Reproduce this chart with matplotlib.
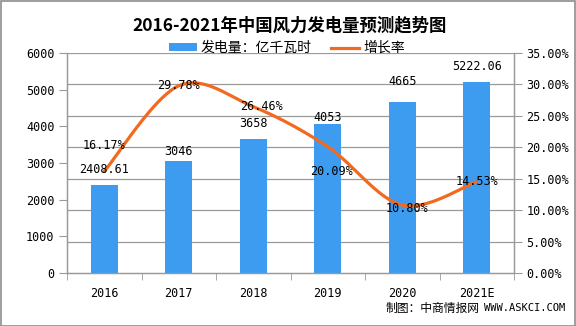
import numpy as np
import matplotlib
matplotlib.use("Agg")
import matplotlib.pyplot as plt
from matplotlib.patches import Rectangle
from matplotlib.lines import Line2D
from matplotlib.patches import Patch

plt.rcParams['font.family'] = ['Noto Sans CJK SC', 'DejaVu Sans']

# ---- data ----
years = ["2016", "2017", "2018", "2019", "2020", "2021E"]
power = [2408.61, 3046, 3658, 4053, 4665, 5222.06]
power_labels = ["2408.61", "3046", "3658", "4053", "4665", "5222.06"]
growth = [16.17, 29.78, 26.46, 20.09, 10.80, 14.53]
growth_labels = ["16.17%", "29.78%", "26.46%", "20.09%", "10.80%", "14.53%"]

# label offsets in pixels (style)
bar_label_off = [15, 10, 15, 7, 20, 15]
pct_label_off = [(0, 26), (0, 0), (8, 0), (4, -25), (5, -3), (0, 0)]

BAR = "#3D9CF0"
LINE = "#F26A1F"
GRID = "#9A9A9A"
MONO = ['DejaVu Sans Mono', 'Noto Sans CJK SC']

fig = plt.figure(figsize=(5.76, 3.26), dpi=100)
ax = fig.add_axes([67/576, 1-273/326, (514-67)/576, (273-53)/326])
ax2 = ax.twinx()

x = np.arange(len(years))
ax.bar(x, power, width=0.36, color=BAR, zorder=3)
ax.set_ylim(0, 6000)
ax.set_xlim(-0.5, len(years) - 0.5)
ax.set_yticks(np.arange(0, 6001, 1000))
ax.set_xticks(x)
ax.set_xticklabels(years, family=MONO, fontsize=8.5)
ax.tick_params(axis='x', length=0, pad=10)
ax.set_xticks(np.arange(-0.5, len(years), 1), minor=True)
ax.tick_params(axis='x', which='minor', length=5, color=GRID, direction='out')
ax.tick_params(axis='y', length=6, color=GRID, pad=3, labelsize=8.5)
for lab in ax.get_yticklabels():
    lab.set_family(MONO)

# Smoothed line (Catmull-Rom style like Excel smoothing)
g = np.array(growth)
pts = np.column_stack([x, g])
curve = []
for i in range(len(pts) - 1):
    p0 = pts[i - 1] if i > 0 else pts[i]
    p1 = pts[i]
    p2 = pts[i + 1]
    p3 = pts[i + 2] if i + 2 < len(pts) else pts[i + 1]
    c1 = p1 + (p2 - p0) / 6
    c2 = p2 - (p3 - p1) / 6
    t = np.linspace(0, 1, 40)[:, None]
    seg = (1 - t) ** 3 * p1 + 3 * (1 - t) ** 2 * t * c1 + 3 * (1 - t) * t ** 2 * c2 + t ** 3 * p2
    curve.append(seg if i == 0 else seg[1:])
curve = np.vstack(curve)
ax2.plot(curve[:, 0], curve[:, 1], color=LINE, lw=2.3, zorder=4, solid_capstyle='round')
ax2.set_ylim(0, 35)
pct_ticks = np.arange(0, 35.01, 5)
ax2.set_yticks(pct_ticks)
ax2.set_yticklabels([f"{v:.2f}%" for v in pct_ticks], family=MONO, fontsize=8.5)
ax2.tick_params(axis='y', length=6, color=GRID, pad=3)
ax2.set_zorder(2)
ax.set_zorder(1)
ax2.patch.set_visible(False)

# gridlines at the right-axis ticks, drawn behind the bars
for v in pct_ticks[1:]:
    ax.axhline(v / 35 * 6000, color=GRID, lw=0.9, zorder=1)

for a in (ax, ax2):
    a.spines['top'].set_visible(False)
    for s in ('left', 'right', 'bottom'):
        a.spines[s].set_color(GRID)
        a.spines[s].set_linewidth(0.9)

# bar labels
for i, (v, lab) in enumerate(zip(power, power_labels)):
    ax2.annotate(lab, xy=(x[i], v / 6000 * 35), xytext=(0, bar_label_off[i]),
                 textcoords='offset pixels', ha='center', va='center',
                 fontsize=8.5, family=MONO, zorder=6)
# percent labels
for i, (v, lab) in enumerate(zip(growth, growth_labels)):
    dx, dy = pct_label_off[i]
    ax2.annotate(lab, xy=(x[i], v), xytext=(dx, dy), textcoords='offset pixels',
                 ha='center', va='center', fontsize=8.5, family=MONO, zorder=6)

# title
fig.text(290/576, 1 - 25/326, "2016-2021年中国风力发电量预测趋势图", ha='center', va='center',
         fontsize=12.5, fontweight='bold')

# legend
handles = [Patch(facecolor=BAR, edgecolor='none'), Line2D([0], [0], color=LINE, lw=2.3)]
fig.legend(handles, ["发电量：亿千瓦时", "增长率"], loc='center', bbox_to_anchor=(287/576, 1 - 48/326),
           ncol=2, frameon=False, fontsize=10, handlelength=2.0, handleheight=0.5,
           columnspacing=1.4, handletextpad=0.3)

# footer
fig.text(386/576, 1 - 308/326, "制图：中商情报网", ha='left', va='center', fontsize=8.5)
fig.text(565/576, 1 - 308/326, "WWW.ASKCI.COM", ha='right', va='center', fontsize=7.5, family=MONO)

# border
fig.add_artist(Rectangle((0.5/576, 0.5/326), 1 - 1.5/576, 1 - 1.5/326, transform=fig.transFigure,
                         fill=False, edgecolor="#8C8C8C", lw=1.2))

fig.savefig("out.png", dpi=100)
